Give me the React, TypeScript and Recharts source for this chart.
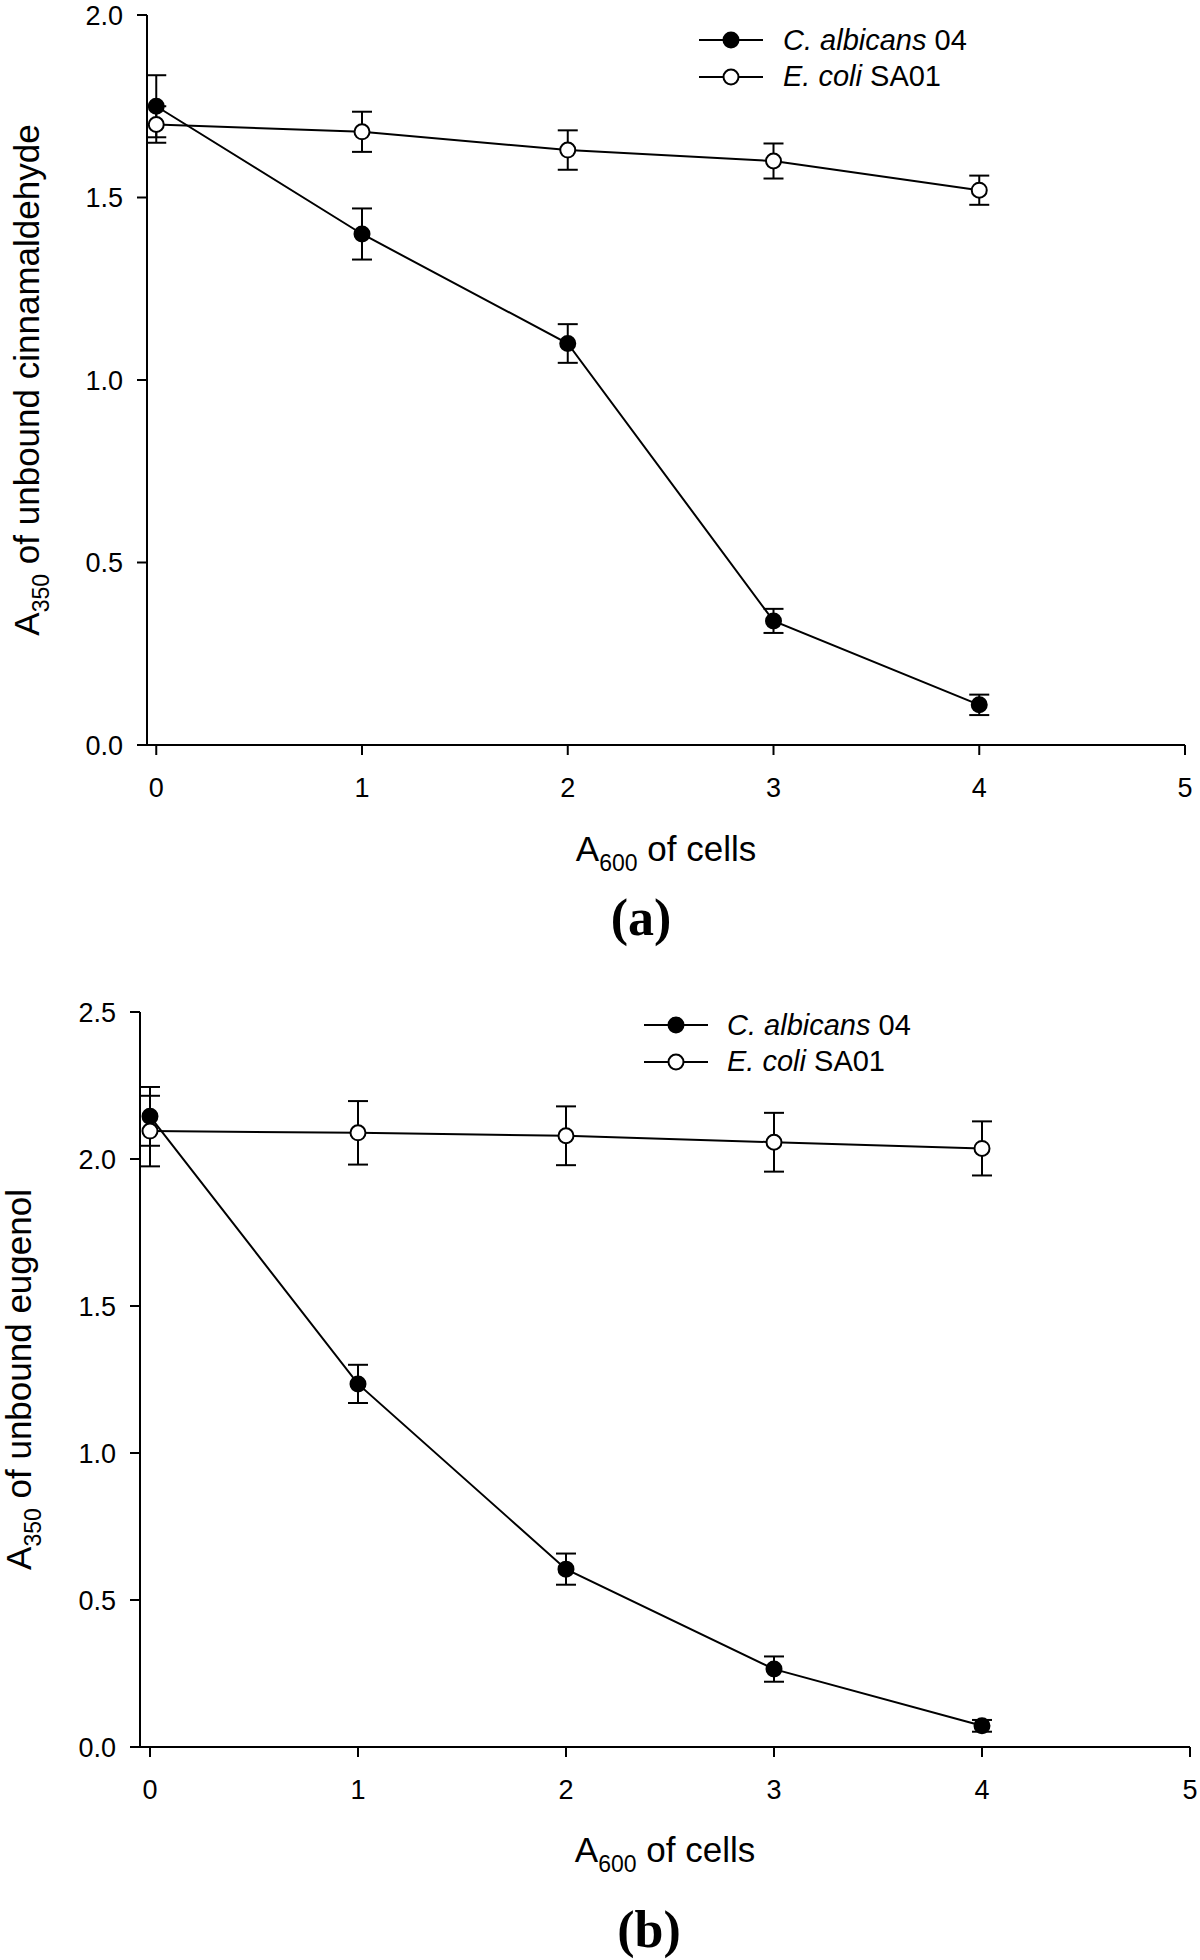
import React from 'react';
import { LineChart, Line, XAxis, YAxis, ErrorBar, Legend, Label } from 'recharts';

// ---------- data ----------
const cellsA600 = [0, 1, 2, 3, 4];
const xTicks = [0, 1, 2, 3, 4, 5];
const yTicksCinnam = [0, 0.5, 1.0, 1.5, 2.0];
const yTicksEugenol = [0, 0.5, 1.0, 1.5, 2.0, 2.5];

// (a) cinnamaldehyde
const cinnamCalbicans = [1.75, 1.40, 1.10, 0.34, 0.11];
const cinnamCalbicansErr = [0.085, 0.07, 0.053, 0.033, 0.028];
const cinnamEcoli = [1.70, 1.68, 1.63, 1.60, 1.52];
const cinnamEcoliErr = [0.05, 0.055, 0.054, 0.048, 0.04];

// (b) eugenol
const eugenolCalbicans = [2.145, 1.235, 0.605, 0.265, 0.072];
const eugenolCalbicansErr = [0.1, 0.065, 0.053, 0.043, 0.02];
const eugenolEcoli = [2.095, 2.089, 2.079, 2.057, 2.036];
const eugenolEcoliErr = [0.12, 0.108, 0.1, 0.1, 0.092];

const seriesLabels = [
  { key: 'ca', species: 'C. albicans', strain: '04', filled: true },
  { key: 'ec', species: 'E. coli', strain: 'SA01', filled: false },
];

const FONT = '"Liberation Sans", Arial, Helvetica, sans-serif';
const SERIF = '"Liberation Serif", "Times New Roman", Times, serif';

function buildRows(ca: number[], caErr: number[], ec: number[], ecErr: number[]) {
  return cellsA600.map((x, i) => ({ x, ca: ca[i], caErr: caErr[i], ec: ec[i], ecErr: ecErr[i] }));
}

const dataA = buildRows(cinnamCalbicans, cinnamCalbicansErr, cinnamEcoli, cinnamEcoliErr);
const dataB = buildRows(eugenolCalbicans, eugenolCalbicansErr, eugenolEcoli, eugenolEcoliErr);

type PanelCfg = {
  data: any[];
  height: number;
  margin: { top: number; right: number; bottom: number; left: number };
  yAxisWidth: number;
  xAxisHeight: number;
  xMin: number;
  yMax: number;
  yTicks: number[];
  yTitleRest: string;
  yTitleX: number;
  xTitleY: number;
  panelLabel: string;
  panelLabelX: number;
  panelLabelY: number;
  legendLeft: number;
  legendTop: number;
  legendLineW: number;
  legendGap: number;
};

const panelA: PanelCfg = {
  data: dataA,
  height: 980,
  margin: { top: 15, right: 15, bottom: 175, left: 0 },
  yAxisWidth: 147,
  xAxisHeight: 60,
  xMin: -0.045,
  yMax: 2.0,
  yTicks: yTicksCinnam,
  yTitleRest: ' of unbound cinnamaldehyde',
  yTitleX: 39,
  xTitleY: 861,
  panelLabel: '(a)',
  panelLabelX: 641,
  panelLabelY: 935,
  legendLeft: 699,
  legendTop: 22,
  legendLineW: 64,
  legendGap: 20,
};

const panelB: PanelCfg = {
  data: dataB,
  height: 980,
  margin: { top: 32, right: 10, bottom: 153, left: 0 },
  yAxisWidth: 140,
  xAxisHeight: 60,
  xMin: -0.048,
  yMax: 2.5,
  yTicks: yTicksEugenol,
  yTitleRest: ' of unbound eugenol',
  yTitleX: 31,
  xTitleY: 882,
  panelLabel: '(b)',
  panelLabelX: 649,
  panelLabelY: 967,
  legendLeft: 644,
  legendTop: 27,
  legendLineW: 64,
  legendGap: 19,
};

const LegendContent = ({ lineW, gap }: { lineW: number; gap: number }) => (
  <div style={{ display: 'flex', flexDirection: 'column' }}>
    {seriesLabels.map((s) => (
      <div key={s.key} style={{ display: 'flex', alignItems: 'center', height: 36.6 }}>
        <svg width={lineW} height={20} style={{ display: 'block' }}>
          <line x1={0} y1={10} x2={lineW} y2={10} stroke="#000" strokeWidth={2} />
          <circle cx={lineW / 2} cy={10} r={7.5} fill={s.filled ? '#000' : '#fff'} stroke="#000" strokeWidth={2} />
        </svg>
        <span style={{ marginLeft: gap, fontFamily: FONT, fontSize: 29, lineHeight: 1, color: '#000', whiteSpace: 'nowrap' }}>
          <i>{s.species}</i> {s.strain}
        </span>
      </div>
    ))}
  </div>
);

function Panel({ cfg }: { cfg: PanelCfg }) {
  const width = 1200;
  const plotLeft = cfg.margin.left + cfg.yAxisWidth;
  const plotRight = width - cfg.margin.right;
  const plotTop = cfg.margin.top;
  const plotBottom = cfg.height - cfg.margin.bottom - cfg.xAxisHeight;
  const xCenter = (plotLeft + plotRight) / 2;
  const yCenter = (plotTop + plotBottom) / 2;

  const renderXTitle = () => (
    <g>
      <text x={xCenter} y={cfg.xTitleY} textAnchor="middle" fontFamily={FONT} fontSize={35} fill="#000">
        A<tspan fontSize={23} dy={10}>600</tspan>
        <tspan dy={-10}> of cells</tspan>
      </text>
      <text x={cfg.panelLabelX} y={cfg.panelLabelY} textAnchor="middle" fontFamily={SERIF} fontWeight="bold" fontSize={52} fill="#000">
        {cfg.panelLabel}
      </text>
    </g>
  );

  const renderYTitle = () => (
    <text
      x={cfg.yTitleX}
      y={yCenter}
      transform={`rotate(-90, ${cfg.yTitleX}, ${yCenter})`}
      textAnchor="middle"
      fontFamily={FONT}
      fontSize={35}
      fill="#000"
    >
      A<tspan fontSize={23} dy={10}>350</tspan>
      <tspan dy={-10}>{cfg.yTitleRest}</tspan>
    </text>
  );

  const tickStyle = { fill: '#000', fontSize: 27, fontFamily: FONT };

  return (
    <LineChart width={width} height={cfg.height} data={cfg.data} margin={cfg.margin}>
      <XAxis
        dataKey="x"
        type="number"
        domain={[cfg.xMin, 5]}
        allowDataOverflow
        ticks={xTicks}
        height={cfg.xAxisHeight}
        axisLine={{ stroke: '#000', strokeWidth: 2 }}
        tickLine={{ stroke: '#000', strokeWidth: 2 }}
        tickSize={10}
        tickMargin={23}
        tick={tickStyle}
        interval={0}
      >
        <Label content={renderXTitle} />
      </XAxis>
      <YAxis
        type="number"
        domain={[0, cfg.yMax]}
        allowDataOverflow
        ticks={cfg.yTicks}
        width={cfg.yAxisWidth}
        axisLine={{ stroke: '#000', strokeWidth: 2 }}
        tickLine={{ stroke: '#000', strokeWidth: 2 }}
        tickSize={10}
        tickMargin={14}
        tick={tickStyle}
        interval={0}
        tickFormatter={(v: number) => v.toFixed(1)}
      >
        <Label content={renderYTitle} />
      </YAxis>
      <Legend
        layout="vertical"
        align="center"
        verticalAlign="middle"
        content={() => <LegendContent lineW={cfg.legendLineW} gap={cfg.legendGap} />}
        wrapperStyle={{ position: 'absolute', left: cfg.legendLeft, top: cfg.legendTop, width: 'auto', height: 'auto', margin: 0 }}
      />
      <Line
        type="linear"
        dataKey="ca"
        name="C. albicans 04"
        stroke="#000"
        strokeWidth={2}
        dot={{ r: 7.5, fill: '#000', stroke: '#000', strokeWidth: 2 }}
        activeDot={false}
        isAnimationActive={false}
      >
        <ErrorBar dataKey="caErr" direction="y" width={10} stroke="#000" strokeWidth={2} isAnimationActive={false} />
      </Line>
      <Line
        type="linear"
        dataKey="ec"
        name="E. coli SA01"
        stroke="#000"
        strokeWidth={2}
        dot={{ r: 7.5, fill: '#fff', stroke: '#000', strokeWidth: 2 }}
        activeDot={false}
        isAnimationActive={false}
      >
        <ErrorBar dataKey="ecErr" direction="y" width={10} stroke="#000" strokeWidth={2} isAnimationActive={false} />
      </Line>
    </LineChart>
  );
}

export default function App() {
  return (
    <div style={{ position: 'absolute', left: 0, top: 0, width: 1200, height: 1960, background: '#fff' }}>
      <div style={{ position: 'absolute', left: 0, top: 0 }}>
        <Panel cfg={panelA} />
      </div>
      <div style={{ position: 'absolute', left: 0, top: 980 }}>
        <Panel cfg={panelB} />
      </div>
    </div>
  );
}
